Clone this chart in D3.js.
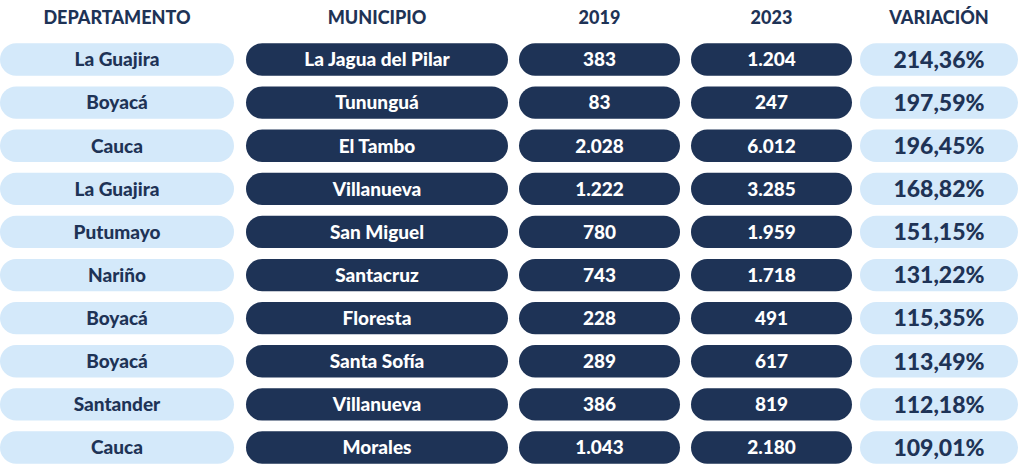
<!DOCTYPE html>
<html><head><meta charset="utf-8">
<script src="https://cdn.jsdelivr.net/npm/d3@7"></script>
<style>
  body { margin: 0; background: #fff; }
  text { font-family: Lato, "Open Sans", sans-serif; font-weight: 900; }
</style>
</head><body>
<svg id="chart" width="1024" height="468"></svg>
<script>
var departamentos = ["La Guajira", "Boyacá", "Cauca", "La Guajira", "Putumayo", "Nariño", "Boyacá", "Boyacá", "Santander", "Cauca"];
var municipios = ["La Jagua del Pilar", "Tununguá", "El Tambo", "Villanueva", "San Miguel", "Santacruz", "Floresta", "Santa Sofía", "Villanueva", "Morales"];
var valores2019 = ["383", "83", "2.028", "1.222", "780", "743", "228", "289", "386", "1.043"];
var valores2023 = ["1.204", "247", "6.012", "3.285", "1.959", "1.718", "491", "617", "819", "2.180"];
var variacion = ["214,36%", "197,59%", "196,45%", "168,82%", "151,15%", "131,22%", "115,35%", "113,49%", "112,18%", "109,01%"];
var headers = ["DEPARTAMENTO", "MUNICIPIO", "2019", "2023", "VARIACIÓN"];

var light = "#d4e9fa", dark = "#1e3356";
var columns = [
  { x: 0, w: 234, fill: light, color: dark, size: 19, vals: departamentos },
  { x: 246, w: 262, fill: dark, color: "#fff", size: 19, vals: municipios },
  { x: 519, w: 161, fill: dark, color: "#fff", size: 19, vals: valores2019 },
  { x: 691, w: 161, fill: dark, color: "#fff", size: 19, vals: valores2023 },
  { x: 860, w: 158, fill: light, color: dark, size: 23, vals: variacion }
];

var svg = d3.select("#chart");
var y = d3.scaleBand().domain(d3.range(departamentos.length)).range([39, 468]).paddingInner(0.25).paddingOuter(0.1);

svg.selectAll(".header").data(headers).enter().append("text")
  .attr("class", "header")
  .attr("x", function(d, i) { return columns[i].x + columns[i].w / 2; })
  .attr("y", 24)
  .attr("text-anchor", "middle")
  .attr("font-size", 18)
  .attr("fill", dark)
  .text(function(d) { return d; });

columns.forEach(function(col) {
  var g = svg.append("g");
  var cells = g.selectAll("g").data(col.vals).enter().append("g")
    .attr("transform", function(d, i) { return "translate(" + col.x + "," + y(i) + ")"; });
  cells.append("rect")
    .attr("width", col.w)
    .attr("height", y.bandwidth())
    .attr("rx", y.bandwidth() / 2)
    .attr("fill", col.fill);
  cells.append("text")
    .attr("x", col.w / 2)
    .attr("y", y.bandwidth() / 2)
    .attr("dy", "0.36em")
    .attr("text-anchor", "middle")
    .attr("font-size", col.size)
    .attr("fill", col.color)
    .text(function(d) { return d; });
});
</script>
</body></html>
